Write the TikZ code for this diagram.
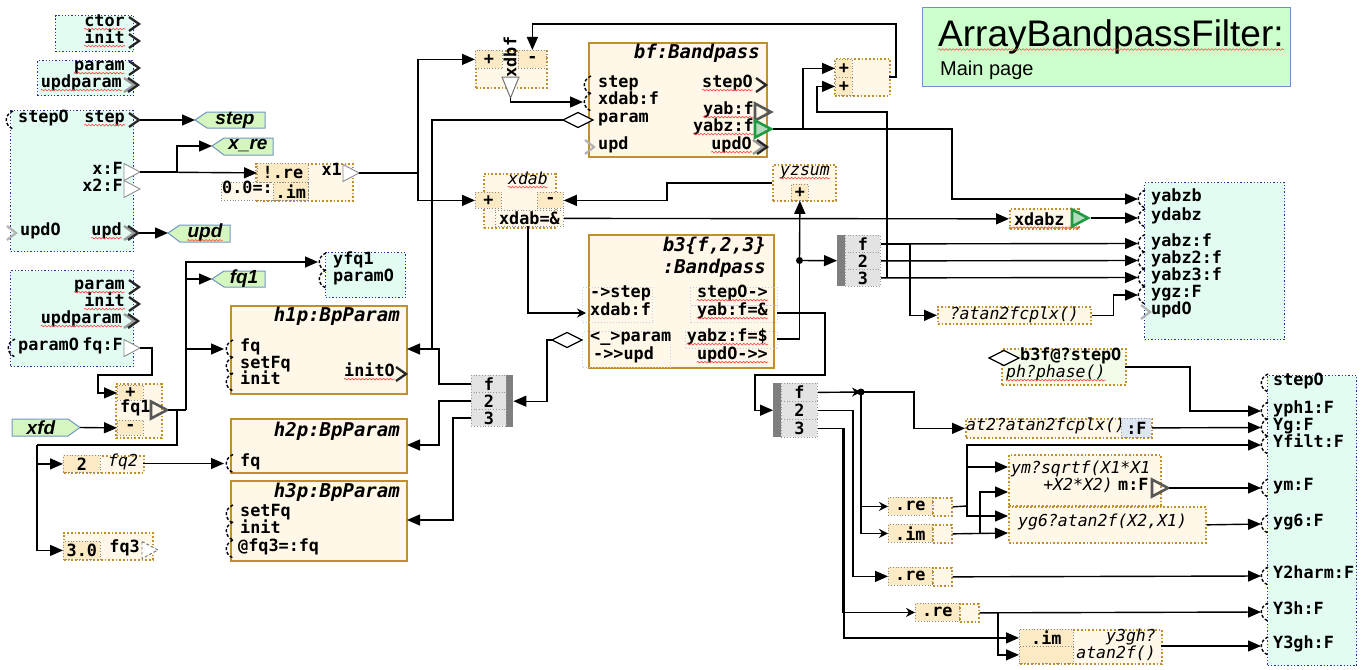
\documentclass[tikz,border=0pt]{standalone}
\usepackage{fontspec}
\setmainfont{Liberation Sans}
\setmonofont{DejaVu Sans Mono}
\usetikzlibrary{arrows.meta,decorations.pathmorphing}
\definecolor{abMint}{HTML}{E3FCF2}
\definecolor{abNavy}{HTML}{2B2F9E}
\definecolor{abCream}{HTML}{FFF8E9}
\definecolor{abGold}{HTML}{C28F2E}
\definecolor{abCell}{HTML}{FCEAC4}
\definecolor{abTag}{HTML}{D6F6C0}
\definecolor{abTagLine}{HTML}{7097C2}
\definecolor{abTitle}{HTML}{CCFFCC}
\definecolor{abTitleLine}{HTML}{7090C6}
\definecolor{abMux}{HTML}{E3E3E3}
\definecolor{abBar}{HTML}{7F7F7F}
\definecolor{abGreen}{HTML}{1F9A42}
\definecolor{abDark}{HTML}{575757}
\definecolor{abPale}{HTML}{F3FCE8}
\definecolor{abBlue}{HTML}{DDE6F1}
\newcommand{\portfont}{\fontsize{16.8}{17}\selectfont\ttfamily\bfseries}
\newcommand{\itfont}{\fontsize{16.5}{17}\selectfont\ttfamily\itshape}
\newcommand{\modfont}{\fontsize{19}{21}\selectfont\ttfamily\bfseries\itshape}
\newcommand{\tagfont}{\fontsize{19}{20}\selectfont\bfseries\itshape}

\begin{document}
\begin{tikzpicture}[x=1pt, y=-1pt,
    mint/.style={draw=abNavy, dotted, line width=1.3pt, fill=abMint, anchor=north west, inner sep=0pt},
    mod/.style={draw=abGold, line width=2pt, fill=abCream, anchor=north west, inner sep=0pt},
    op/.style={draw=abGold, dotted, line width=1.7pt, fill=abCream, anchor=north west, inner sep=0pt},
    cell/.style={draw=black!45, dotted, line width=0.8pt, fill=abCell, anchor=north west, inner sep=0pt, font=\portfont},
    lcell/.style={draw=abNavy!25, dotted, line width=1pt, anchor=north west, inner sep=0pt},
    mux/.style={draw=black!40, dotted, line width=0.8pt, fill=abMux, anchor=north west, inner sep=0pt, font=\portfont},
    bar/.style={fill=abBar, anchor=north west, inner sep=0pt},
    tag/.style={draw=abTagLine, line width=1pt, fill=abTag},
    pl/.style={font=\portfont, inner sep=0pt, anchor=mid west},
    pr/.style={font=\portfont, inner sep=0pt, anchor=mid east},
    il/.style={font=\itfont, inner sep=0pt, anchor=mid west},
    ir/.style={font=\itfont, inner sep=0pt, anchor=mid east},
    tl/.style={font=\modfont, inner sep=0pt, anchor=mid east},
    tg/.style={font=\tagfont, inner sep=0pt},
    sq/.style={append after command={([yshift=-2.5pt]\tikzlastnode.base west) edge[red!75, line width=0.6pt, decorate, decoration={snake, amplitude=0.8pt, segment length=3.5pt}] ([yshift=-2.5pt]\tikzlastnode.base east)}},
    wire/.style={line width=1.4pt},
    arr/.style={wire, -{Triangle[length=13pt, width=11pt]}},
    sarr/.style={wire, -{Stealth[length=9pt, width=9pt]}},
    pics/chev/.style={code={\draw[line width=2.3pt, black!85] (-5,-7) -- (5,0) -- (-5,7);}},
    pics/chevs/.style={code={\draw[line width=2.3pt, black!40] (-7,-7) -- (3,0) -- (-7,7);
                             \draw[line width=2.3pt, black!85] (-3,-7) -- (7,0) -- (-3,7);}},
    pics/ingray/.style={code={\draw[line width=2.2pt, black!30] (-5,-7) -- (4,0) -- (-5,7);}},
    pics/indash/.style={code={\draw[densely dashed, line width=1.4pt] (3,-9) .. controls (-6,-5) and (-6,5) .. (3,9);}},
    pics/wtri/.style={code={\draw[black!45, fill=white, line width=0.9pt] (0,-8.5) -- (16,0) -- (0,8.5) -- cycle;}},
    pics/wtrid/.style={code={\draw[black!55, fill=white, densely dashed, line width=0.9pt] (0,-8.5) -- (16,0) -- (0,8.5) -- cycle;}},
    pics/dtri/.style={code={\draw[abDark, line width=2.6pt] (0,-8.5) -- (16,0) -- (0,8.5) -- cycle;}},
    pics/gtri/.style={code={\draw[abGreen, fill=abGreen!35, line width=2.6pt] (0,-8.5) -- (16,0) -- (0,8.5) -- cycle;}},
    pics/dia/.style={code={\draw[fill=white, line width=1.3pt] (-15,0) -- (0,-7.5) -- (15,0) -- (0,7.5) -- cycle;}}
  ]
  \useasboundingbox (0,0) rectangle (1362,669);

  % title
  \node[draw=abTitleLine, line width=1.2pt, fill=abTitle, minimum width=368, minimum height=79, anchor=north west, inner sep=0pt] (title) at (922,7) {};
  \node[font=\fontsize{37}{40}\selectfont, anchor=base west, inner sep=0pt, sq] (ttl) at (938,47) {ArrayBandpassFilter:};
  \node[font=\fontsize{20}{22}\selectfont, anchor=base west, inner sep=0pt] (sub) at (940,75) {Main page};

  % interface boxes, left
  \node[mint, minimum width=78, minimum height=36] (bctor) at (55,15) {};
  \node[pr, sq] (lctor) at (125,24) {ctor};
  \node[pr, sq] (linit) at (125,41) {init};
  \pic at (134,24) {chev};
  \pic at (134,41) {chev};

  \node[mint, minimum width=96, minimum height=35] (bparam) at (37,60) {};
  \node[pr, sq] (lparam) at (125,68) {param};
  \node[pr, sq] (lupdp) at (122,85) {updparam};
  \pic at (134,68) {chev};
  \pic at (131,85) {chevs};

  \node[mint, minimum width=123, minimum height=141] (bio) at (10,110) {};
  \pic at (10,120) {indash};
  \node[pl] (lstepo) at (18,120) {stepO};
  \node[pr, sq] (lstep) at (125,120) {step};
  \pic at (134,120) {chev};
  \node[pr] (lx) at (123,172) {x:F};
  \pic at (124,172) {wtri};
  \node[pr] (lx2) at (123,189) {x2:F};
  \pic at (124,189) {wtri};
  \pic at (12,233) {ingray};
  \node[pl] (lupdo) at (20,233) {updO};
  \node[pr, sq] (lupd) at (122,233) {upd};
  \pic at (131,233) {chevs};
  \coordinate (cstep) at (140,120);
  \coordinate (cx) at (140,172);
  \coordinate (cupd) at (139,233);

  \node[mint, minimum width=123, minimum height=96] (bpar) at (10,270) {};
  \node[pr, sq] (dparam) at (125,287) {param};
  \node[pr, sq] (dinit) at (125,304) {init};
  \node[pr, sq] (dupdp) at (122,321) {updparam};
  \pic at (134,287) {chev};
  \pic at (134,304) {chev};
  \pic at (131,321) {chevs};
  \pic at (12,348) {indash};
  \node[pl] (dparamo) at (18,348) {paramO};
  \node[pr] (dfqf) at (123,348) {fq:F};
  \pic at (124,348) {wtri};
  \coordinate (dfq) at (140,348);

  \node[mint, minimum width=80, minimum height=45] (byfq) at (325,252) {};
  \pic at (323,262) {indash};
  \pic at (323,279) {indash};
  \node[pl] (lyfq) at (333,262) {yfq1};
  \node[pl] (lyparo) at (333,279) {paramO};
  \coordinate (yfq1-in) at (318,262);

  % tags
  \draw[tag] (195,120) -- (207,112) -- (265,112) -- (265,128) -- (207,128) -- cycle;
  \node[tg] (tstep) at (235,120) {step};
  \coordinate (tstep-in) at (195,120);
  \draw[tag] (212,146) -- (224,138) -- (273,138) -- (273,155) -- (224,155) -- cycle;
  \node[tg] (txre) at (248,146) {x\_re};
  \coordinate (txre-in) at (212,146);
  \draw[tag] (168,233) -- (180,225) -- (230,225) -- (230,242) -- (180,242) -- cycle;
  \node[tg, sq] (tupd) at (205,233) {upd};
  \coordinate (tupd-in) at (168,233);
  \draw[tag] (212,279) -- (224,271) -- (265,271) -- (265,287) -- (224,287) -- cycle;
  \node[tg] (tfq) at (244,279) {fq1};
  \coordinate (tfq1-in) at (212,279);
  \draw[tag] (12,419) -- (68,419) -- (80,427.5) -- (68,436) -- (12,436) -- cycle;
  \node[tg] (txfd) at (41,427.5) {xfd};
  \coordinate (xfdout) at (80,427.5);

  % x1 complex builder
  \node[op, minimum width=97, minimum height=37] (bx1) at (255,163) {};
  \node[cell, fill=abCream, minimum width=87, minimum height=18] (cim0) at (221,182) {};
  \node[font=\portfont, inner sep=0pt, anchor=mid west] (c00) at (222,191) {0.0=:};
  \node[cell, minimum width=35, minimum height=18] (cim) at (273,182) {.im};
  \node[cell, minimum width=51, minimum height=19] (cre) at (257,163) {!.re};
  \node[pr] (lx1) at (342,173) {x1};
  \pic at (343,173) {wtri};
  \coordinate (x1out) at (359,173);

  % feedback difference xdbf
  \node[op, minimum width=71, minimum height=37] (xdbf) at (475,50) {};
  \node[cell, minimum width=27, minimum height=18] (xdbfp) at (475,50) {+};
  \node[cell, minimum width=28, minimum height=18] (xdbfm) at (518,50) {-};
  \node[font=\portfont, rotate=90, inner sep=0pt] (xdbfl) at (510,57) {xdbf};
  \draw[black!55, fill=white, line width=1pt] (502,77) -- (519,77) -- (510.5,98) -- cycle;
  \coordinate (xdbfout) at (510.5,98);

  % bf module
  \node[mod, minimum width=178, minimum height=114] (bf) at (588,42) {};
  \node[tl] (bft) at (760,56) {bf:Bandpass};
  \pic at (588,85) {indash};
  \pic at (588,102) {indash};
  \pic at (578,120) {dia};
  \pic at (590,147) {ingray};
  \node[pl] (bfstep) at (598,85) {step};
  \node[pl] (bfxdab) at (598,102) {xdab:f};
  \node[pl] (bfparam) at (598,120) {param};
  \node[pl] (bfupd) at (598,147) {upd};
  \node[pr, sq] (bfstepo) at (753,85) {stepO};
  \node[pr, sq] (bfyab) at (754,112) {yab:f};
  \node[pr, sq] (bfyabz) at (754,129) {yabz:f};
  \node[pr, sq] (bfupdo) at (752,147) {updO};
  \pic at (761,85) {chev};
  \pic at (755,112) {dtri};
  \pic at (755,129) {gtri};
  \pic at (760,147) {chevs};
  \coordinate (bf-xdab) at (583,102);
  \coordinate (bf-param) at (563,120);
  \coordinate (bf-yabz) at (773,129);

  % top adder
  \node[op, minimum width=55, minimum height=37] (add) at (834,58) {};
  \node[cell, minimum width=17, minimum height=18] (addp1) at (835,59) {+};
  \node[cell, minimum width=17, minimum height=18] (addp2) at (835,77) {+};
  \coordinate (addout) at (889,77);

  % xdab difference
  \node[op, minimum width=72, minimum height=54] (xdab) at (483,173) {};
  \node[ir, sq] (xdabt) at (548,182) {xdab};
  \node[cell, minimum width=26, minimum height=16] (xdabp) at (475,192) {+};
  \node[cell, minimum width=26, minimum height=16] (xdabm) at (537,192) {-};
  \node[cell, fill=abCream, minimum width=68, minimum height=16] (xdabo) at (495,210) {xdab=\&};
  \coordinate (xdabdn) at (528,226);

  % yzsum
  \node[op, minimum width=63, minimum height=36] (yzsum) at (772,164) {};
  \node[ir, sq] (yzsumt) at (830,173) {yzsum};
  \node[cell, minimum width=17, minimum height=16] (yzp) at (791,184) {+};

  % b3 module
  \node[mod, minimum width=185, minimum height=133] (b3) at (588,234) {};
  \node[tl] (b3t1) at (766,249) {b3\{f,2,3\}};
  \node[tl] (b3t2) at (766,271) {:Bandpass};
  \node[lcell, minimum width=70, minimum height=35] (b3c1) at (582,287) {};
  \node[lcell, minimum width=88, minimum height=36] (b3c2) at (582,331) {};
  \node[lcell, minimum width=87, minimum height=18] (b3c3) at (690,287) {};
  \node[lcell, minimum width=87, minimum height=17] (b3c4) at (690,305) {};
  \node[lcell, minimum width=92, minimum height=17] (b3c5) at (685,331) {};
  \node[pl] (b3step) at (590,295) {->step};
  \node[pl] (b3xdab) at (590,313) {xdab:f};
  \node[pl] (b3param) at (590,339) {<\_>param};
  \node[pl] (b3upd) at (593,357) {->>upd};
  \node[pr, sq] (b3stepo) at (768,295) {stepO->};
  \node[pr, sq] (b3yab) at (768,313) {yab:f=\&};
  \node[pr, sq] (b3yabz) at (768,339) {yabz:f=\$};
  \node[pr, sq] (b3updo) at (768,357) {updO->>};
  \pic at (567,340) {dia};
  \coordinate (b3-xdab) at (586,313);
  \coordinate (b3-param) at (552,340);
  \coordinate (b3-yab) at (777,313);
  \coordinate (b3-yabz) at (777,339);

  % parameter demux
  \node[bar, minimum width=7, minimum height=52] (mux2bar) at (506,375) {};
  \node[mux, minimum width=35, minimum height=17] (mux2f) at (471,375) {f};
  \node[mux, minimum width=35, minimum height=17] (mux22) at (471,392) {2};
  \node[mux, minimum width=35, minimum height=17] (mux23) at (471,409) {3};

  % BpParam modules
  \node[mod, minimum width=176, minimum height=88] (h1p) at (230,305) {};
  \node[tl] (h1pt) at (400,319) {h1p:BpParam};
  \pic at (230,349) {indash};
  \pic at (230,366) {indash};
  \pic at (230,382) {indash};
  \node[pl] (h1fq) at (240,349) {fq};
  \node[pl] (h1set) at (240,366) {setFq};
  \node[pl] (h1init) at (240,382) {init};
  \node[pr, sq] (h1inito) at (395,374) {initO};
  \pic at (401,374) {chev};
  \coordinate (h1p-fq) at (224,349);
  \coordinate (h1p-in) at (407,349);

  \node[mod, minimum width=176, minimum height=54] (h2p) at (230,418) {};
  \node[tl] (h2pt) at (400,434) {h2p:BpParam};
  \pic at (230,463.5) {indash};
  \node[pl] (h2fq) at (240,463.5) {fq};
  \coordinate (h2p-fq) at (224,463.5);
  \coordinate (h2p-in) at (407,445);

  \node[mod, minimum width=176, minimum height=80] (h3p) at (230,480) {};
  \node[tl] (h3pt) at (400,495) {h3p:BpParam};
  \pic at (230,514) {indash};
  \pic at (230,531) {indash};
  \pic at (230,549) {indash};
  \node[pl] (h3set) at (240,514) {setFq};
  \node[pl] (h3init) at (240,531) {init};
  \node[pl] (h3fq) at (238,549) {@fq3=:fq};
  \coordinate (h3p-in) at (407,520);

  % fq1 difference and constants
  \node[op, minimum width=46, minimum height=54] (fq1) at (115,383) {};
  \node[cell, minimum width=26, minimum height=15] (fq1p) at (117,385) {+};
  \node[cell, minimum width=26, minimum height=15] (fq1m) at (117,420) {-};
  \node[pl] (lfq1) at (120,410) {fq1};
  \pic at (151,410) {dtri};
  \coordinate (fq1out) at (168,410);
  \coordinate (jfq) at (186,410);
  \coordinate (jfqd) at (177,410);

  \node[op, minimum width=80, minimum height=17] (bfq2) at (63,455) {};
  \node[cell, minimum width=37, minimum height=17] (c2) at (63,455) {2};
  \node[il] (lfq2) at (108,463.5) {fq2};
  \coordinate (fq2out) at (143,463.5);

  \node[op, minimum width=89, minimum height=27] (bfq3) at (63,532) {};
  \node[cell, minimum width=37, minimum height=18] (c30) at (63,541) {3.0};
  \node[pr] (lfq3) at (140,550) {fq3};
  \pic at (142,550) {wtrid};

  % outputs demux of b3
  \node[bar, minimum width=8, minimum height=51] (mux1bar) at (837,235) {};
  \node[mux, minimum width=35, minimum height=17] (mux1f) at (845,235) {f};
  \node[mux, minimum width=35, minimum height=17] (mux12) at (845,252) {2};
  \node[mux, minimum width=35, minimum height=17] (mux13) at (845,269) {3};
  \coordinate (jsum) at (799.5,260.5);
  \coordinate (jm3) at (887,277.5);

  \node[op, font=\itfont, minimum width=153, minimum height=17] (atanc) at (937,306) {?atan2fcplx()};
  \node[op, font=\portfont, minimum width=69, minimum height=20, sq] (xdabz) at (1009,208) {xdabz~~};
  \pic at (1072,218) {gtri};
  \coordinate (xdabzo) at (1091,218);

  % upper output interface
  \node[mint, minimum width=140, minimum height=157] (outa) at (1144,182) {};
  \pic at (1142,199) {indash};
  \pic at (1142,218) {indash};
  \pic at (1142,243.5) {indash};
  \pic at (1142,260.5) {indash};
  \pic at (1142,277.5) {indash};
  \pic at (1142,295) {indash};
  \pic at (1146,312) {ingray};
  \node[pl] (oyabzb) at (1151,199) {yabzb};
  \node[pl] (oydabz) at (1151,218) {ydabz};
  \node[pl] (oyabz) at (1151,243.5) {yabz:f};
  \node[pl] (oyabz2) at (1151,260.5) {yabz2:f};
  \node[pl] (oyabz3) at (1151,277.5) {yabz3:f};
  \node[pl] (oygz) at (1151,295) {ygz:F};
  \node[pl] (oupdo) at (1151,312) {updO};
  \coordinate (rt-yabzb) at (1138,199);
  \coordinate (rt-ydabz) at (1138,218);
  \coordinate (rt-yabz) at (1138,243.5);
  \coordinate (rt-yabz2) at (1138,260.5);
  \coordinate (rt-yabz3) at (1138,277.5);
  \coordinate (rt-ygz) at (1138,295);

  % phase
  \node[op, fill=abPale, minimum width=124, minimum height=36] (b3f) at (1001,348) {};
  \pic at (1004,358) {dia};
  \node[pl] (lb3f) at (1020,358) {b3f@?stepO};
  \node[il, sq] (lph) at (1006,375) {ph?phase()};
  \coordinate (b3fo) at (1125,367);

  % lower demux and evaluation
  \node[bar, minimum width=8, minimum height=54] (mux3bar) at (773,383) {};
  \node[mux, minimum width=36, minimum height=18] (mux3f) at (781,383) {f};
  \node[mux, minimum width=36, minimum height=18] (mux32) at (781,401) {2};
  \node[mux, minimum width=36, minimum height=18] (mux33) at (781,419) {3};
  \coordinate (jre) at (861,392);

  \node[op, minimum width=186, minimum height=19] (at2) at (965,418) {};
  \node[il] (lat2) at (966,427.5) {at2?atan2fcplx()};
  \node[draw=black!40, dotted, line width=0.8pt, fill=abBlue, font=\portfont, minimum width=30, minimum height=19, anchor=north west, inner sep=0pt] (at2f) at (1121,418) {:F};

  \node[op, minimum width=19, minimum height=18] (re1s) at (932,497) {};
  \node[cell, minimum width=44, minimum height=18] (re1) at (888,497) {.re};
  \node[op, minimum width=19, minimum height=18] (im1s) at (932,524) {};
  \node[cell, minimum width=44, minimum height=18] (im1) at (888,524) {.im};
  \coordinate (jr1) at (967,506);
  \coordinate (ji1) at (980,533);

  \node[op, minimum width=152, minimum height=51] (ym) at (1008,454) {};
  \node[il] (lym1) at (1011,471) {ym?sqrtf(X1*X1};
  \node[ir] (lym2) at (1113,488) {+X2*X2)};
  \node[pl] (lymf) at (1118,488) {m:F};
  \pic at (1152,488) {dtri};
  \coordinate (ymo) at (1169,488);
  \coordinate (ym-x1) at (1008,467);
  \coordinate (ym-x2) at (1008,492);

  \node[op, minimum width=197, minimum height=36] (yg6) at (1008,506) {};
  \node[il] (lyg6) at (1018,524) {yg6?atan2f(X2,X1)};
  \coordinate (yg6-x1) at (1008,516);
  \coordinate (yg6-x2) at (1008,533);

  \node[op, minimum width=19, minimum height=18] (re2s) at (932,567) {};
  \node[cell, minimum width=44, minimum height=18] (re2) at (888,567) {.re};
  \node[op, minimum width=19, minimum height=18] (re3s) at (959,603) {};
  \node[cell, minimum width=44, minimum height=18] (re3) at (915,603) {.re};
  \coordinate (j3h) at (998,612);

  \node[op, minimum width=142, minimum height=34] (y3gh) at (1019,629) {};
  \node[cell, minimum width=54, minimum height=17] (y3im) at (1019,629) {.im};
  \node[cell, minimum width=54, minimum height=17] (y3re) at (1019,646) {};
  \node[ir] (ly3a) at (1156,639) {y3gh?};
  \node[ir] (ly3b) at (1156,656) {atan2f()};
  \coordinate (y3gho) at (1161,646);

  % lower output interface
  \node[mint, minimum width=89, minimum height=290] (outb) at (1267,375) {};
  \pic at (1265,383) {indash};
  \pic at (1265,411) {indash};
  \pic at (1265,427.5) {indash};
  \pic at (1265,445) {indash};
  \pic at (1265,488) {indash};
  \pic at (1265,524) {indash};
  \pic at (1265,576) {indash};
  \pic at (1265,612) {indash};
  \pic at (1265,646) {indash};
  \node[pl] (pstepo) at (1273,383) {stepO};
  \node[pl] (pyph) at (1273,411) {yph1:F};
  \node[pl] (pyg) at (1273,427.5) {Yg:F};
  \node[pl] (pyfilt) at (1273,445) {Yfilt:F};
  \node[pl] (pym) at (1273,488) {ym:F};
  \node[pl] (pyg6) at (1273,524) {yg6:F};
  \node[pl] (py2h) at (1273,576) {Y2harm:F};
  \node[pl] (py3h) at (1273,612) {Y3h:F};
  \node[pl] (py3gh) at (1273,646) {Y3gh:F};
  \coordinate (rb-yph1) at (1261,411);
  \coordinate (rb-yg) at (1261,427.5);
  \coordinate (rb-yfilt) at (1261,445);
  \coordinate (rb-ym) at (1261,488);
  \coordinate (rb-yg6) at (1261,524);
  \coordinate (rb-y2h) at (1261,576);
  \coordinate (rb-y3h) at (1261,612);
  \coordinate (rb-y3gh) at (1261,646);

  % connectors, left part
  \draw[arr] (cstep) -- (tstep-in);
  \draw[arr] (cupd) -- (tupd-in);
  \draw[arr] (cx) -- (cre.west);
  \draw[arr] (cx) -- ++(37,0) |- (txre-in);
  \draw[wire] (x1out) -- ++(59,0) coordinate (jx1);
  \draw[arr] (jx1) |- (xdbfp.west);
  \draw[arr] (jx1) |- (xdabp.west);
  \draw[arr] (dfq) -- ++(12,0) -- ++(0,27) -- ++(-54,0) |- (fq1p.west);
  \draw[arr] (xfdout) -- (fq1m.west);
  \draw[wire] (fq1out) -- (jfq);
  \draw[arr] (jfq) |- (yfq1-in);
  \draw[arr] (jfq) |- (tfq1-in);
  \draw[arr] (jfq) |- (h1p-fq);
  \draw[wire] (jfqd) -- ++(0,35) -- ++(-140,0) coordinate (jfql);
  \draw[arr] (jfql) |- (c2.west);
  \draw[arr] (jfql) |- (c30.west);
  \draw[arr] (fq2out) -- (h2p-fq);

  % connectors, parameters
  \draw[wire] (bf-param) -| (h1p-in -| 432,0);
  \draw[arr] (b3-param) -- ++(-5,0) |- (mux2bar.east);
  \draw[arr] (mux2f.west) -- ++(-32,0) |- (h1p-in);
  \draw[arr] (mux22.west) -- ++(-32,0) |- (h2p-in);
  \draw[arr] (mux23.west) -- ++(-18,0) |- (h3p-in);

  % connectors, filters
  \draw[arr] (xdbfout) |- (bf-xdab);
  \draw[arr] (addout) -- ++(7,0) -- ++(0,-53) -| (xdbfm.north);
  \draw[arr] (bf-yabz) -- ++(179,0) |- (rt-yabzb);
  \draw[arr] (bf-yabz -| 803,0) |- (addp1.west);
  \draw[arr] (jm3) -- ++(0,-165.5) -- ++(-70,0) |- (addp2.west);
  \draw[arr] (yzsum.west) -- ++(-105,0) |- (xdabm.east);
  \draw[arr] (xdabo.east) -- (xdabz.west);
  \draw[arr] (xdabzo) -- (rt-ydabz);
  \draw[sarr] (xdabdn) |- (b3-xdab);
  \draw[wire] (b3-yabz) -| (jsum);
  \draw[arr] (jsum) -- (yzp.south);
  \draw[arr] (jsum) -- (mux1bar.west);
  \fill (jsum) circle (3.5);
  \draw[arr] (mux1f.east) -- (rt-yabz);
  \draw[arr] (mux12.east) -- (rt-yabz2);
  \draw[arr] (mux13.east) -- (rt-yabz3);
  \draw[arr] (mux1f.east) -- ++(29,0) |- (atanc.west);
  \draw[arr] (atanc.east) -- ++(22,0) |- (rt-ygz);

  % connectors, evaluation
  \draw[arr] (b3-yab) -- ++(48,0) -- ++(0,62) -- ++(-70,0) |- (mux3bar.west);
  \draw[sarr] (mux3f.east) -- (jre);
  \fill (jre) circle (3.5);
  \draw[arr] (jre) -- ++(53,0) |- (at2.west);
  \draw[sarr] (jre) |- (re1.west);
  \draw[sarr] (jre) |- (im1.west);
  \draw[arr] (mux32.east) -- ++(35,0) |- (re2.west);
  \draw[arr] (mux33.east) -- ++(26,0) |- (y3im.west);
  \draw[sarr] (mux33.east -| 843,0) |- (re3.west);
  \draw[arr] (at2f.east) -- (rb-yg);
  \draw[wire] (re1s.east) -- (jr1);
  \draw[arr] (jr1) |- (rb-yfilt);
  \draw[arr] (jr1) |- (ym-x1);
  \draw[arr] (jr1) |- (yg6-x1);
  \draw[arr] (im1s.east) -- (yg6-x2);
  \draw[arr] (ji1) |- (ym-x2);
  \draw[arr] (ymo) -- (rb-ym);
  \draw[arr] (yg6.east) -- (rb-yg6);
  \draw[arr] (re2s.east) -- (rb-y2h);
  \draw[arr] (re3s.east) -- (rb-y3h);
  \draw[arr] (j3h) |- (y3re.west);
  \draw[arr] (y3gho) -- (rb-y3gh);
  \draw[arr] (b3fo) -- ++(65,0) |- (rb-yph1);
\end{tikzpicture}
\end{document}
